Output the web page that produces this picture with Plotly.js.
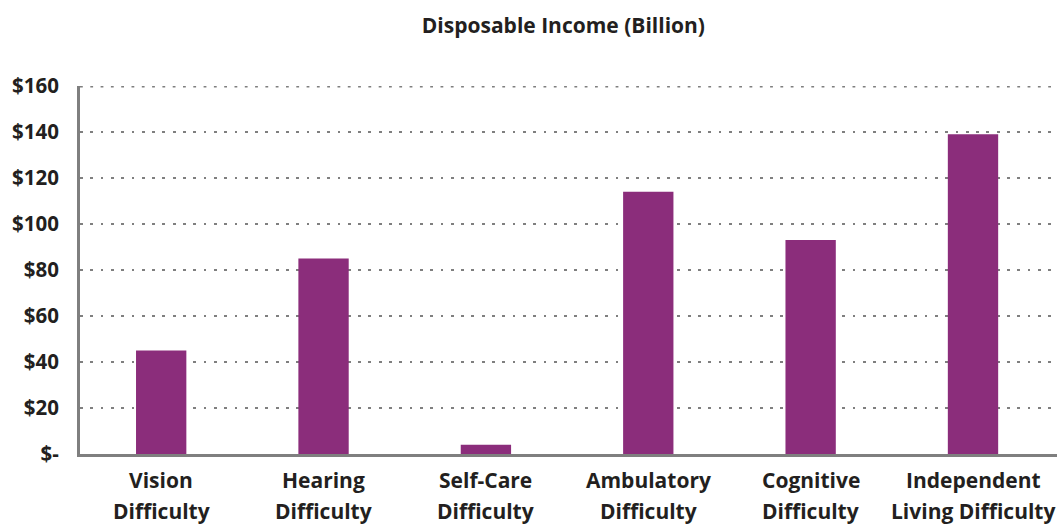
<!DOCTYPE html>
<html>
<head>
<meta charset="utf-8">
<script src="https://cdn.plot.ly/plotly-3.0.1.min.js"></script>
<style>html,body{margin:0;padding:0;background:#fff;}#chart{width:1063px;height:525px;}</style>
</head>
<body>
<div id="chart"></div>
<script>
const categories = ["Vision Difficulty", "Hearing Difficulty", "Self-Care Difficulty", "Ambulatory Difficulty", "Cognitive Difficulty", "Independent Living Difficulty"];
const labelLine1 = ["Vision", "Hearing", "Self-Care", "Ambulatory", "Cognitive", "Independent"];
const labelLine2 = ["Difficulty", "Difficulty", "Difficulty", "Difficulty", "Difficulty", "Living Difficulty"];
const disposableIncome = [45, 85, 4, 114, 93, 139];
const yTickValues = [0, 20, 40, 60, 80, 100, 120, 140, 160];
const yTickLabels = ["$-", "$20", "$40", "$60", "$80", "$100", "$120", "$140", "$160"];

const fontFamily = '"Open Sans", "Noto Sans", sans-serif';
const textColor = '#231f20';
const axisColor = '#7f7f7f';
const gridDash = '2.8px,7.5px';
const yMax = yTickValues[yTickValues.length - 1];

const data = [{
  type: 'bar',
  x: categories,
  y: disposableIncome,
  marker: {color: '#8b2d7b'},
  width: 0.31,
  hoverinfo: 'skip'
}];

const annotations = [];
categories.forEach((c, i) => {
  annotations.push({
    x: c, xref: 'x', y: 0, yref: 'paper', yshift: -26,
    text: '<b>' + labelLine1[i] + '</b>', showarrow: false,
    xanchor: 'center', yanchor: 'middle',
    font: {family: fontFamily, size: 21, color: textColor}
  });
  annotations.push({
    x: c, xref: 'x', y: 0, yref: 'paper', yshift: -57,
    text: '<b>' + labelLine2[i] + '</b>', showarrow: false,
    xanchor: 'center', yanchor: 'middle',
    font: {family: fontFamily, size: 21, color: textColor}
  });
});

const layout = {
  width: 1063,
  height: 525,
  margin: {l: 80, r: 6, t: 86, b: 71},
  paper_bgcolor: '#ffffff',
  plot_bgcolor: '#ffffff',
  showlegend: false,
  title: {
    text: '<b>Disposable Income (Billion)</b>',
    font: {family: fontFamily, size: 21, color: textColor},
    x: 0.53, xanchor: 'center',
    y: 0.951, yanchor: 'middle'
  },
  annotations: annotations,
  shapes: [{
    type: 'line', layer: 'below',
    xref: 'paper', x0: 0, x1: 1,
    yref: 'y', y0: yMax, y1: yMax,
    line: {color: axisColor, width: 2.8, dash: gridDash}
  }],
  xaxis: {
    type: 'category',
    showticklabels: false,
    showline: true,
    linecolor: axisColor,
    linewidth: 3,
    ticks: '',
    showgrid: false,
    zeroline: false,
    fixedrange: true
  },
  yaxis: {
    range: [0, yMax],
    tickmode: 'array',
    tickvals: yTickValues,
    ticktext: yTickLabels.map(t => '<b>' + t + '</b>'),
    tickfont: {family: fontFamily, size: 20.5, color: textColor},
    showline: true,
    linecolor: axisColor,
    linewidth: 3,
    ticks: '',
    showgrid: true,
    gridcolor: axisColor,
    gridwidth: 2.8,
    griddash: gridDash,
    zeroline: false,
    ticklabelstandoff: 14,
    fixedrange: true
  },
  bargap: 0.69
};

Plotly.newPlot('chart', data, layout, {displayModeBar: false, staticPlot: true});
</script>
</body>
</html>
